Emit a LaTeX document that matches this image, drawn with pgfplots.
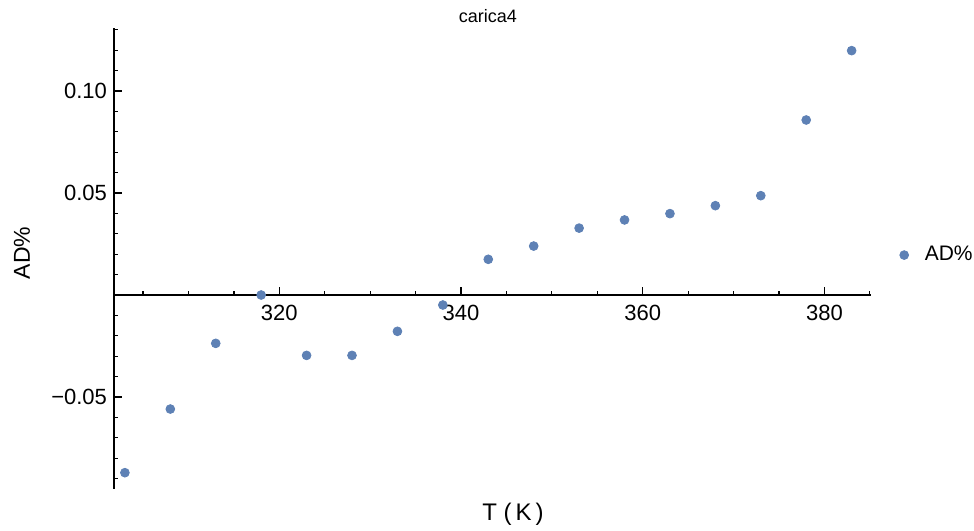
\documentclass[border=0pt]{standalone}
\usepackage{fontspec}
\setmainfont{Liberation Sans}
\usepackage{pgfplots}
\pgfplotsset{compat=1.18}
\definecolor{ptblue}{HTML}{5E81B5}

\begin{document}
\begin{tikzpicture}
\useasboundingbox (-57pt,-20.6pt) rectangle (430pt,244.4pt);
\begin{axis}[
  at={(0,0)}, anchor=south west,
  scale only axis, width=378.35pt, height=230.5pt,
  xmin=301.8, xmax=385.1, ymin=-0.095, ymax=0.131,
  axis x line*=middle, axis y line*=left,
  axis line style={black, line width=0.7pt},
  tick align=inside,
  major tick length=4pt, minor tick length=2pt,
  every tick/.style={black, line width=0.6pt},
  xtick={320,340,360,380}, xticklabels={320,340,360,380},
  minor xtick={305,310,315,325,330,335,345,350,355,365,370,375,385},
  ytick={-0.05,0.05,0.10}, yticklabels={−0.05,0.05,0.10},
  minor ytick={-0.09,-0.08,-0.07,-0.06,-0.04,-0.03,-0.02,-0.01,0.01,0.02,0.03,0.04,0.06,0.07,0.08,0.09,0.11,0.12,0.13},
  ticklabel style={font=\fontsize{11}{13}\selectfont},
  xticklabel style={yshift=-1.3pt},
  clip=false,
  legend style={draw=none, fill=none, inner sep=0pt, outer sep=0pt,
    at={(axis description cs:1.0379,0.507)}, anchor=west,
    font=\fontsize{10.5}{12}\selectfont,
    nodes={inner sep=0pt}},
  legend image code/.code={
    \fill[ptblue] (0pt,0pt) circle (2.2pt);
    \path[draw=none, fill=none] (-2.2pt,0pt) rectangle (10.3pt,0.1pt);
  },
]
\addplot[only marks, mark=*, mark size=2.2pt, color=ptblue,
  mark options={draw=ptblue, fill=ptblue}] coordinates {
  (303,-0.0871) (308,-0.0559) (313,-0.0237) (318,0.0000)
  (323,-0.0296) (328,-0.0296) (333,-0.0178) (338,-0.0049)
  (343,0.0175) (348,0.0240) (353,0.0328) (358,0.0368)
  (363,0.0399) (368,0.0438) (373,0.0487) (378,0.0858)
  (383,0.1198)
};
\addlegendentry{AD\%}
\end{axis}
\node[anchor=base, font=\fontsize{9}{11}\selectfont] at (187pt,232.9pt) {carica4};
\node[rotate=90, font=\fontsize{11.5}{13}\selectfont] at (-46pt,117.9pt) {AD\%};
\node[anchor=base, font=\fontsize{12}{14}\selectfont] at (199.5pt,-15.6pt) {T (\,K\,)};
\end{tikzpicture}
\end{document}
